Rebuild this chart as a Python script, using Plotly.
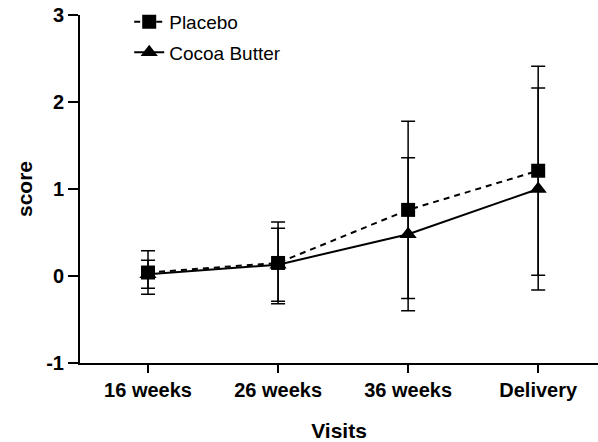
import plotly.graph_objects as go

visits = ["16 weeks", "26 weeks", "36 weeks", "Delivery"]
placebo_mean = [0.04, 0.15, 0.76, 1.21]
placebo_err = [0.25, 0.47, 1.02, 1.20]
cocoa_mean = [0.02, 0.13, 0.48, 1.00]
cocoa_err = [0.16, 0.42, 0.88, 1.16]
y_ticks = [-1, 0, 1, 2, 3]
y_tick_labels = ["-1", "0", "1", "2", "3"]

FONT = "Liberation Sans, Arial, Helvetica, sans-serif"

fig = go.Figure()
fig.add_trace(go.Scatter(
    x=visits, y=cocoa_mean, name="Cocoa Butter", legendgroup="c", legendrank=2,
    mode="lines+markers",
    line=dict(color="black", width=2),
    marker=dict(symbol="triangle-up", size=15, color="black"),
    error_y=dict(type="data", array=cocoa_err, color="black", thickness=1.5, width=7),
))
fig.add_trace(go.Scatter(
    x=visits, y=placebo_mean, name="Placebo", legendgroup="p", legendrank=1,
    mode="lines+markers",
    line=dict(color="black", width=2, dash="6px,5px"),
    marker=dict(symbol="square", size=14, color="black"),
    error_y=dict(type="data", array=placebo_err, color="black", thickness=1.5, width=7),
))

fig.update_layout(
    width=598, height=442,
    margin=dict(l=80, r=0, t=15, b=79, autoexpand=False),
    paper_bgcolor="white", plot_bgcolor="white",
    font=dict(family=FONT, color="black"),
    showlegend=True,
    legend=dict(
        x=0.095, y=1.035, xanchor="left", yanchor="top",
        traceorder="grouped", tracegroupgap=3,
        font=dict(size=19, family=FONT, color="black"),
        bgcolor="rgba(0,0,0,0)",
    ),
    xaxis=dict(
        type="category", range=[-0.523, 3.46],
        showline=True, linecolor="black", linewidth=2,
        ticks="outside", ticklen=8, tickwidth=2, tickcolor="black",
        showgrid=False, zeroline=False,
        tickfont=dict(size=20, family=FONT, weight="bold"),
        title=dict(text="<b>Visits</b>", font=dict(size=21, family=FONT), standoff=26),
    ),
    yaxis=dict(
        range=[-1, 3], tickvals=y_ticks, ticktext=y_tick_labels,
        showline=True, linecolor="black", linewidth=2,
        ticks="outside", ticklen=10, tickwidth=2, tickcolor="black",
        showgrid=False, zeroline=False,
        tickfont=dict(size=20, family=FONT, weight="bold"),
        title=dict(text="<b>score</b>", font=dict(size=21, family=FONT), standoff=8),
    ),
)

fig.write_html(
    "out.html",
    config={"displayModeBar": False},
    post_script="document.body.style.margin='0px';document.body.style.padding='0px';",
)
